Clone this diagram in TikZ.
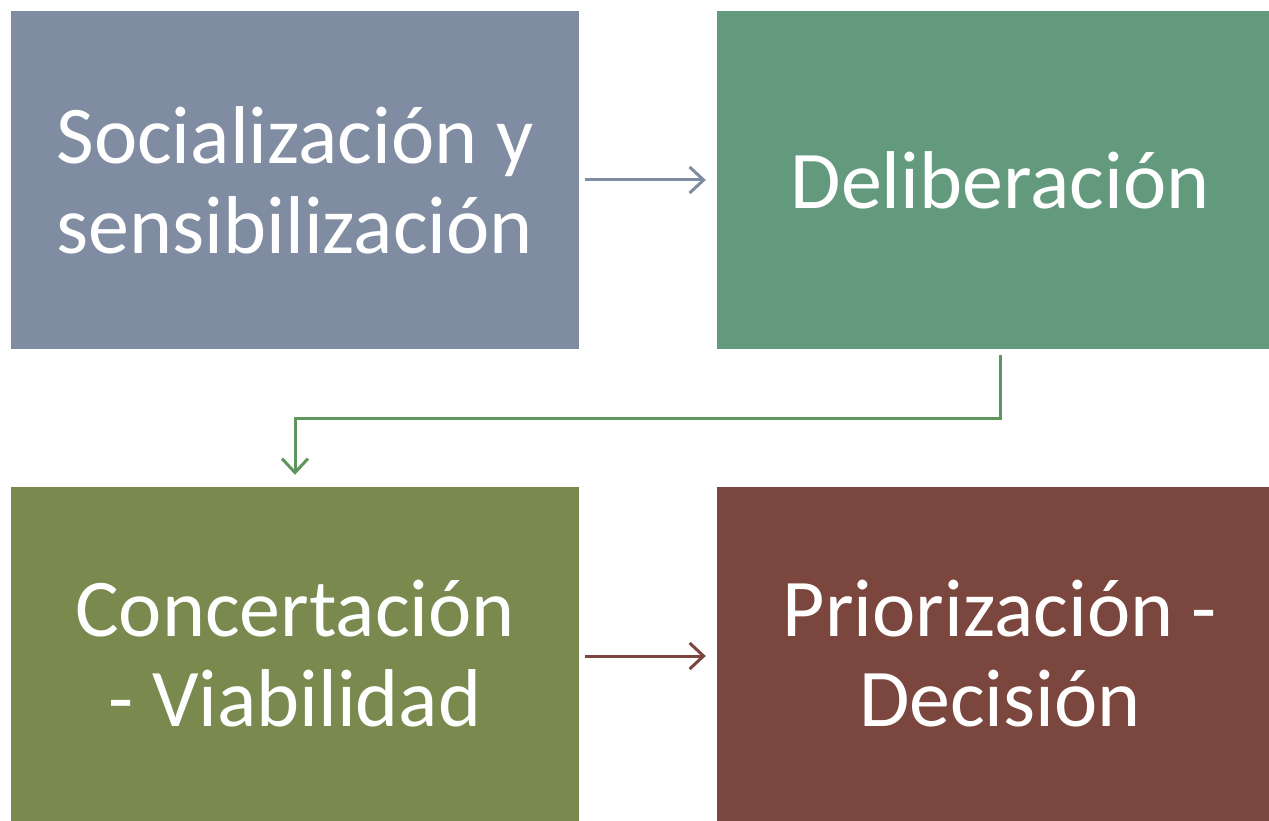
\documentclass[tikz,border=0pt]{standalone}
\usepackage{fontspec}
\setmainfont{Carlito}
\usepackage{xcolor}
\usetikzlibrary{arrows.meta}

\definecolor{grisazul}{HTML}{7F8CA1}
\definecolor{verdemar}{HTML}{639A7D}
\definecolor{oliva}{HTML}{7A8A4E}
\definecolor{vino}{HTML}{7A463D}
\definecolor{verdeflecha}{HTML}{5F9660}

\tikzset{
  etapa/.style={fill=#1, draw=none, text=white, align=center, inner sep=0pt,
    font=\fontsize{82}{90}\selectfont},
  flecha/.style={draw=#1, line width=3pt, -{Straight Barb[length=14pt,width=26pt,line width=3pt]}}
}
\newcommand{\sangria}{\hspace*{14pt}}

\begin{document}
\begin{tikzpicture}[x=1pt,y=-1pt]
        \useasboundingbox (0,0) rectangle (1269,821);
        %Etapas
        \node [etapa=grisazul, minimum width=568pt, minimum height=338pt] (soc) at (295,180)
          {Socializaci\'on y\\sensibilizaci\'on};
        \node [etapa=verdemar, minimum width=552pt, minimum height=338pt] (del) at (993,180)
          {\sangria Deliberaci\'on};
        \node [etapa=oliva, minimum width=568pt, minimum height=334pt] (con) at (295,654)
          {Concertaci\'on\\- Viabilidad};
        \node [etapa=vino, minimum width=552pt, minimum height=334pt] (pri) at (993,654)
          {\sangria Priorizaci\'on -\\\sangria Decisi\'on};
        %Flechas
        \draw [flecha=grisazul, shorten <=6pt, shorten >=11pt] (soc) -- (del);
        \draw [flecha=verdeflecha, shorten <=6pt, shorten >=12pt]
          ([xshift=7pt]del.south) -- ++(0,69) -| (con.north);
        \draw [flecha=vino, shorten <=6pt, shorten >=11pt] ([yshift=-2pt]con.east) -- ([yshift=-2pt]pri.west);
\end{tikzpicture}
\end{document}
